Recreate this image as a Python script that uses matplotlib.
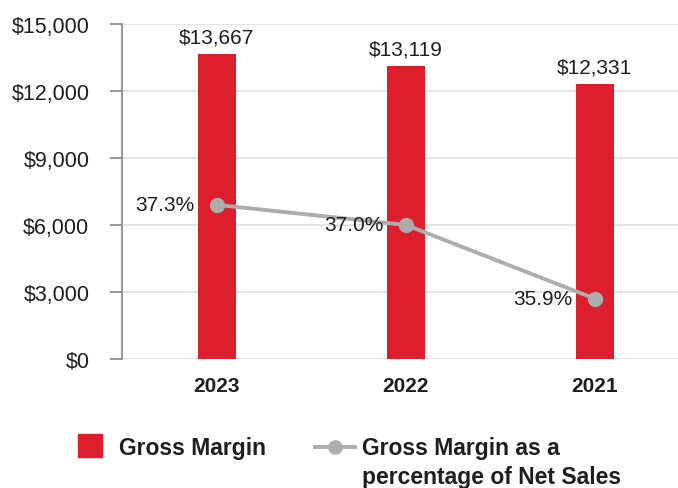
import matplotlib.pyplot as plt
from matplotlib.lines import Line2D
from matplotlib.patches import Rectangle

plt.rcParams['font.family'] = ['Liberation Sans', 'DejaVu Sans']

# data
years = ['2023', '2022', '2021']
gross_margin = [13667, 13119, 12331]
gm_pct = [37.3, 37.0, 35.9]

red = '#dc1e2d'
grey = '#adadad'
txt = '#1e1e1e'

fig = plt.figure(figsize=(6.78, 4.89), dpi=100, facecolor='white')
ax = fig.add_axes([0.18, 0.264, 0.82, 0.685])

x = list(range(len(years)))
ax.bar(x, gross_margin, width=0.2, color=red, zorder=2)
for xi, v in zip(x, gross_margin):
    ax.annotate(f'${v:,}', (xi, v), xytext=(0, 5), textcoords='offset points',
                ha='center', va='bottom', fontsize=15, color=txt)

ax.set_ylim(0, 15000)
ax.set_xlim(-0.5, 2.44)
ax.set_yticks(range(0, 15001, 3000))
ax.set_yticklabels([f'${t:,}' for t in range(0, 15001, 3000)], fontsize=15.5, color=txt)
ax.set_xticks(x)
ax.set_xticklabels(years, fontsize=15, fontweight='bold', color=txt)
ax.tick_params(axis='x', length=0, pad=12)
ax.tick_params(axis='y', length=8.5, width=1.3, color='#8c8c8c', pad=15)
ax.yaxis.grid(True, color='#e4e4e4', linewidth=1.4, zorder=0)
ax.set_axisbelow(True)
for s in ['top', 'right', 'bottom']:
    ax.spines[s].set_visible(False)
ax.spines['left'].set_color('#8c8c8c')
ax.spines['left'].set_linewidth(1.3)

# secondary scale for the percentage line (hidden)
ax2 = ax.twinx()
ax2.set_ylim(35, 40)
ax2.plot(x, gm_pct, color=grey, linewidth=2.8, marker='o', markersize=10, zorder=3)
for xi, p in zip(x, gm_pct):
    ax2.annotate(f'{p:.1f}%', (xi, p), xytext=(-16, 0), textcoords='offset points',
                 ha='right', va='center', fontsize=15, color=txt)
ax2.axis('off')

# legend (drawn by hand to match the layout)
fig.add_artist(Rectangle((0.115, 0.0634), 0.0354, 0.047, color=red,
                         transform=fig.transFigure))
fig.text(0.1755, 0.0838, 'Gross Margin', fontsize=16.5, fontweight='bold',
         color=txt, va='center', ha='left')
fig.add_artist(Line2D([0.465, 0.524], [0.0838, 0.0838], color=grey, linewidth=2.8,
                      transform=fig.transFigure))
fig.add_artist(Line2D([0.494], [0.0838], color=grey, marker='o', markersize=9.5,
                      transform=fig.transFigure))
fig.text(0.534, 0.0838, 'Gross Margin as a', fontsize=16.5, fontweight='bold',
         color=txt, va='center', ha='left')
fig.text(0.534, 0.0245, 'percentage of Net Sales', fontsize=16.5, fontweight='bold',
         color=txt, va='center', ha='left')

fig.savefig('out.png', dpi=100)
